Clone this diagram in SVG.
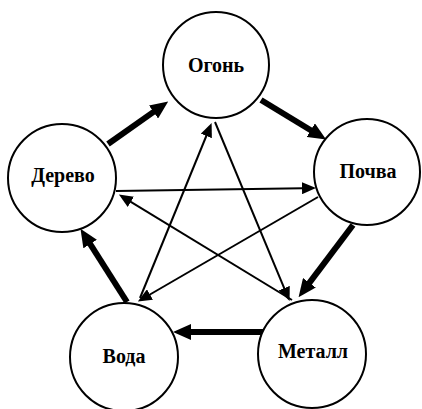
<svg xmlns="http://www.w3.org/2000/svg" width="422" height="409" viewBox="0 0 422 409">
<style>
.node circle{fill:#fff;stroke:#000;stroke-width:2}
.node text{font-family:"Liberation Serif","Times New Roman",serif;font-weight:bold;font-size:20px;text-anchor:middle;fill:#000}
.thick{stroke:#000;stroke-width:6;fill:none;marker-end:url(#ah-thick)}
.thin{stroke:#000;stroke-width:2;fill:none;marker-end:url(#ah-thin)}
</style>
<defs>
<marker id="ah-thick" viewBox="0 0 18 16" refX="1" refY="8" markerWidth="18" markerHeight="16" markerUnits="userSpaceOnUse" orient="auto"><path d="M0,0 L18,8 L0,16 z" fill="#000"/></marker>
<marker id="ah-thin" viewBox="0 0 14 12" refX="1" refY="6" markerWidth="14" markerHeight="12" markerUnits="userSpaceOnUse" orient="auto"><path d="M0,0 L14,6 L0,12 z" fill="#000"/></marker>
</defs>
<rect width="422" height="409" fill="#fff"/>
<g id="connectors">
<line class="thick" x1="108" y1="144" x2="154.3" y2="111.4"/>
<line class="thick" x1="261" y1="100" x2="311.6" y2="130.7"/>
<line class="thick" x1="353" y1="225" x2="308.8" y2="283.6"/>
<line class="thick" x1="265" y1="332" x2="190" y2="332"/>
<line class="thick" x1="127" y1="302" x2="89.6" y2="243.2"/>
<line class="thin" x1="116" y1="191" x2="303" y2="188.2"/>
<line class="thin" x1="318" y1="197" x2="149.1" y2="295"/>
<line class="thin" x1="140" y1="298" x2="206.7" y2="135"/>
<line class="thin" x1="215" y1="122" x2="284.6" y2="289.1"/>
<line class="thin" x1="292" y1="300" x2="130" y2="201.3"/>
</g>
<g id="ogon" class="node"><circle cx="216" cy="65" r="53"/><text x="216" y="72">Огонь</text></g>
<g id="pochva" class="node"><circle cx="367" cy="172" r="53"/><text x="368" y="178">Почва</text></g>
<g id="metall" class="node"><circle cx="312" cy="354" r="54"/><text x="313" y="358">Металл</text></g>
<g id="voda" class="node"><circle cx="124" cy="357" r="54"/><text x="124" y="363">Вода</text></g>
<g id="derevo" class="node"><circle cx="62" cy="178" r="54"/><text x="63" y="182">Дерево</text></g>
</svg>
